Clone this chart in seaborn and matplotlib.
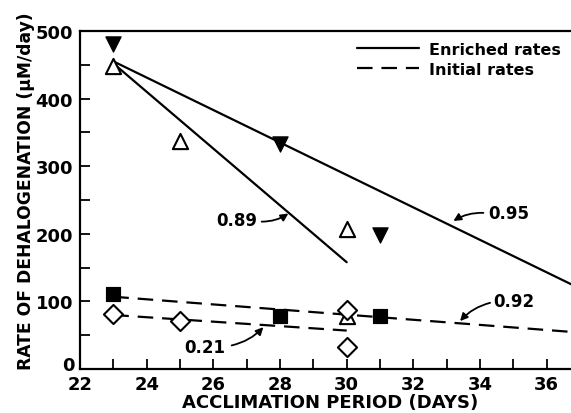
import pandas as pd
import seaborn as sns
import matplotlib.pyplot as plt
from matplotlib.ticker import MultipleLocator, FuncFormatter

# measured points
enr_fill_x = [23, 28, 31]
enr_fill_y = [481, 333, 198]
enr_open_x = [23, 25, 30, 30]
enr_open_y = [448, 337, 207, 78]
ini_fill_x = [23, 28, 31]
ini_fill_y = [111, 78, 79]
ini_open_x = [23, 25, 30, 30]
ini_open_y = [81, 71, 88, 33]

# regression lines (end points)
fit_95_x = [23, 37]
fit_95_y = [455, 119]
fit_89_x = [23, 30]
fit_89_y = [452, 158]
fit_92_x = [23, 37]
fit_92_y = [107, 54]
fit_21_x = [23, 30]
fit_21_y = [80, 57]

r_labels = ['0.89', '0.95', '0.92', '0.21']
r_text_xy = [(26.7, 220), (34.85, 231), (35.0, 100), (25.75, 33)]
r_start_xy = [(27.45, 218), (34.1, 231), (34.3, 98), (26.55, 35)]
r_tip_xy = [(28.25, 230), (33.2, 219), (33.4, 71), (27.5, 62)]

sns.set_style('ticks')
plt.rcParams['font.family'] = ['DejaVu Sans']
plt.rcParams['font.weight'] = 'bold'
for k in ['text.color', 'axes.labelcolor', 'xtick.color', 'ytick.color', 'axes.edgecolor']:
    plt.rcParams[k] = 'black'

fig = plt.figure(figsize=(5.71, 4.14), dpi=100)
ax = fig.add_axes([0.140, 0.106, 0.876, 0.817])

for xs, ys, ls, lab in [(fit_95_x, fit_95_y, '-', 'Enriched rates'),
                        (fit_89_x, fit_89_y, '-', None),
                        (fit_92_x, fit_92_y, (0, (7, 4)), 'Initial rates'),
                        (fit_21_x, fit_21_y, (0, (7, 4)), None)]:
    sns.lineplot(x=xs, y=ys, ax=ax, color='black', lw=1.6, linestyle=ls,
                 label=lab, legend=False, zorder=2)

sns.scatterplot(x=enr_fill_x, y=enr_fill_y, ax=ax, marker='v', s=120,
                color='black', edgecolor='black', zorder=3)
sns.scatterplot(x=enr_open_x, y=enr_open_y, ax=ax, marker='^', s=120,
                facecolor='white', edgecolor='black', linewidth=1.5, zorder=3)
sns.scatterplot(x=ini_fill_x, y=ini_fill_y, ax=ax, marker='s', s=110,
                color='black', edgecolor='black', zorder=3)
sns.scatterplot(x=ini_open_x, y=ini_open_y, ax=ax, marker='D', s=95,
                facecolor='white', edgecolor='black', linewidth=1.5, zorder=3)

for lab, txy, sxy, exy in zip(r_labels, r_text_xy, r_start_xy, r_tip_xy):
    ax.text(txy[0], txy[1], lab, ha='center', va='center',
            fontsize=12, fontweight='bold')
    ax.annotate('', xy=exy, xytext=sxy,
                arrowprops=dict(arrowstyle='-|>', color='black', lw=1.3,
                                shrinkA=0, shrinkB=0, mutation_scale=11,
                                connectionstyle='arc3,rad=0.15'))

handles, labels = ax.get_legend_handles_labels()
ax.legend(handles[:2], labels[:2], loc='upper right', bbox_to_anchor=(0.99, 1.01),
          frameon=False, handlelength=3.9, handletextpad=0.6, labelspacing=0.3,
          prop={'weight': 'bold', 'size': 11.5})

ax.set_xlim(22, 37)
ax.set_ylim(0, 500)
ax.xaxis.set_major_locator(MultipleLocator(2))
ax.xaxis.set_minor_locator(MultipleLocator(1))
ax.yaxis.set_major_locator(MultipleLocator(100))
ax.yaxis.set_minor_locator(MultipleLocator(50))
# the "0" is drawn separately, a little raised, so it clears the "22"
ax.yaxis.set_major_formatter(FuncFormatter(lambda v, p: '' if v == 0 else f'{v:.0f}'))
ax.tick_params(which='both', direction='in', length=7, width=1.3,
               top=False, right=False)
ax.tick_params(axis='y', pad=5)
ax.tick_params(axis='x', pad=4)
for lbl in ax.get_xticklabels() + ax.get_yticklabels():
    lbl.set_fontweight('bold')
    lbl.set_fontsize(13)
ax.annotate('0', xy=(0, 0), xycoords='axes fraction', xytext=(-4, 3),
            textcoords='offset points', ha='right', va='center',
            fontsize=13, fontweight='bold')
for sp in ax.spines.values():
    sp.set_linewidth(1.6)
    sp.set_visible(True)

ax.set_xlabel('ACCLIMATION PERIOD (DAYS)', fontsize=13, fontweight='bold', labelpad=0)
ax.set_ylabel('RATE OF DEHALOGENATION (μM/day)', fontsize=12.3,
              fontweight='bold')
ax.yaxis.set_label_coords(-0.09, 0.53)

fig.savefig('out.png', dpi=100)
